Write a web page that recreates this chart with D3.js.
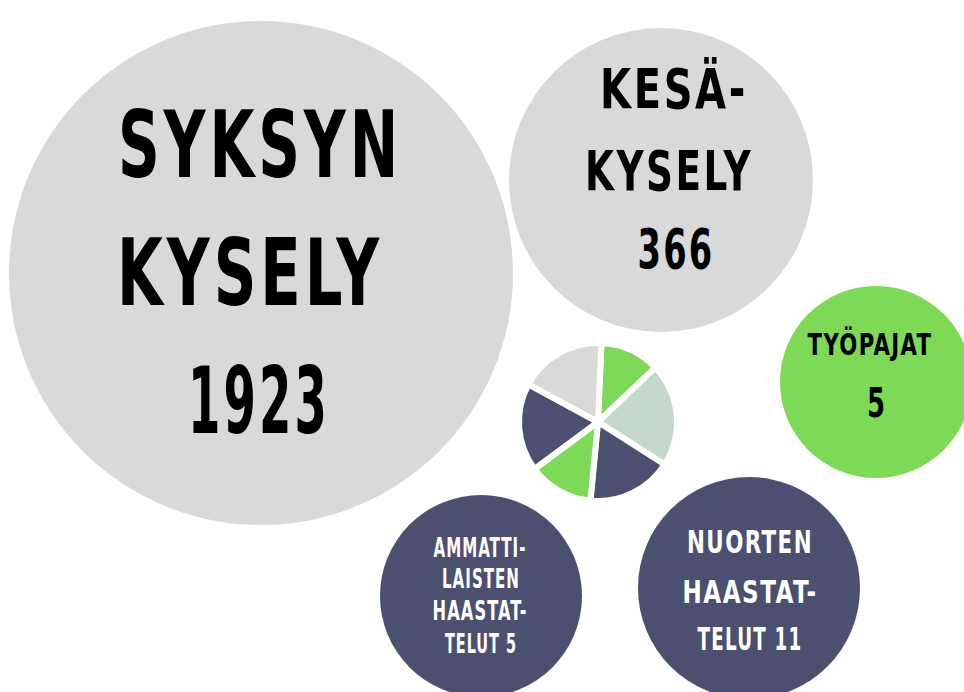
<!DOCTYPE html>
<html>
<head>
<meta charset="utf-8">
<script src="https://cdn.jsdelivr.net/npm/d3@7"></script>
<style>
body{margin:0;background:#ffffff;}
svg{display:block;}
</style>
</head>
<body>
<script>
// aineistot (data)
var nimet=["SYKSYN KYSELY","KESÄKYSELY","TYÖPAJAT","AMMATTILAISTEN HAASTATTELUT","NUORTEN HAASTATTELUT"];
var maarat=[1923,366,5,5,11];
var rivit=[
	["SYKSYN","KYSELY","1923"],
	["KESÄ-","KYSELY","366"],
	["TYÖPAJAT","5"],
	["AMMATTI-","LAISTEN","HAASTAT-","TELUT 5"],
	["NUORTEN","HAASTAT-","TELUT 11"]
];
// koristepiirakka keskellä
var piirakkaArvot=[44,76,63,48,65,64];
var piirakkaVarit=["#7ed957","#c5d8cc","#4b5070","#7ed957","#4b5070","#d9d9d9"];

// ympyröiden asettelu
var asettelu=[
	{cx:261,cy:273,r:252,fill:"#d9d9d9",teksti:"#000000",koko:[92,92,92],
	 x:[260,250,259],y:[177,305,433],leveys:[284,266,142]},
	{cx:661,cy:180,r:152,fill:"#d9d9d9",teksti:"#000000",koko:[56,56,56],
	 x:[674,669,676],y:[108,190,268],leveys:[148,168,77]},
	{cx:876,cy:382,r:96,fill:"#7ed957",teksti:"#000000",koko:[30,40],
	 x:[870,876],y:[355,417],leveys:[125,18]},
	{cx:481,cy:596,r:101,fill:"#4b5070",teksti:"#ffffff",koko:[26,26,26,26],
	 x:[480,481,480,481],y:[557,588,620,653],leveys:[93,78,95,72]},
	{cx:749,cy:588,r:111,fill:"#4b5070",teksti:"#ffffff",koko:[32,32,32],
	 x:[750,750,750],y:[553,603,650],leveys:[126,135,105]}
];

var svg=d3.select("body").append("svg")
	.attr("width",964)
	.attr("height",692);

var ryhmat=svg.selectAll("g.pallo")
	.data(maarat)
	.enter().append("g")
	.attr("class","pallo");

ryhmat.append("circle")
	.attr("cx",function(d,i){return asettelu[i].cx;})
	.attr("cy",function(d,i){return asettelu[i].cy;})
	.attr("r",function(d,i){return asettelu[i].r;})
	.style("fill",function(d,i){return asettelu[i].fill;});

ryhmat.each(function(d,i)
{
	var a=asettelu[i];
	var g=d3.select(this);
	for(var j=0;j<rivit[i].length;j++)
	{
		var yksi=rivit[i][j].length<2;
		g.append("text")
			.attr("x",a.x[j])
			.attr("y",a.y[j])
			.attr("text-anchor","middle")
			.attr("textLength",a.leveys[j])
			.attr("lengthAdjust","spacingAndGlyphs")
			.style("font-family","'DejaVu Sans Condensed','DejaVu Sans',sans-serif")
			.style("font-weight","bold")
			.style("font-size",a.koko[j]+"px")
			.style("letter-spacing",(yksi?0:0.06)+"em")
			.style("fill",a.teksti)
			.text(rivit[i][j]);
	}
});

// piirakka
var alku=2.5*Math.PI/180;
var piirakka=d3.pie().sort(null).startAngle(alku).endAngle(alku+2*Math.PI);
var kaari=d3.arc().innerRadius(0).outerRadius(79);
svg.append("g")
	.attr("transform","translate(598,422)")
	.selectAll("path")
	.data(piirakka(piirakkaArvot))
	.enter().append("path")
	.attr("d",kaari)
	.style("fill",function(d,i){return piirakkaVarit[i];})
	.style("stroke","#ffffff")
	.style("stroke-width",6)
	.style("stroke-linejoin","round");
</script>
</body>
</html>
